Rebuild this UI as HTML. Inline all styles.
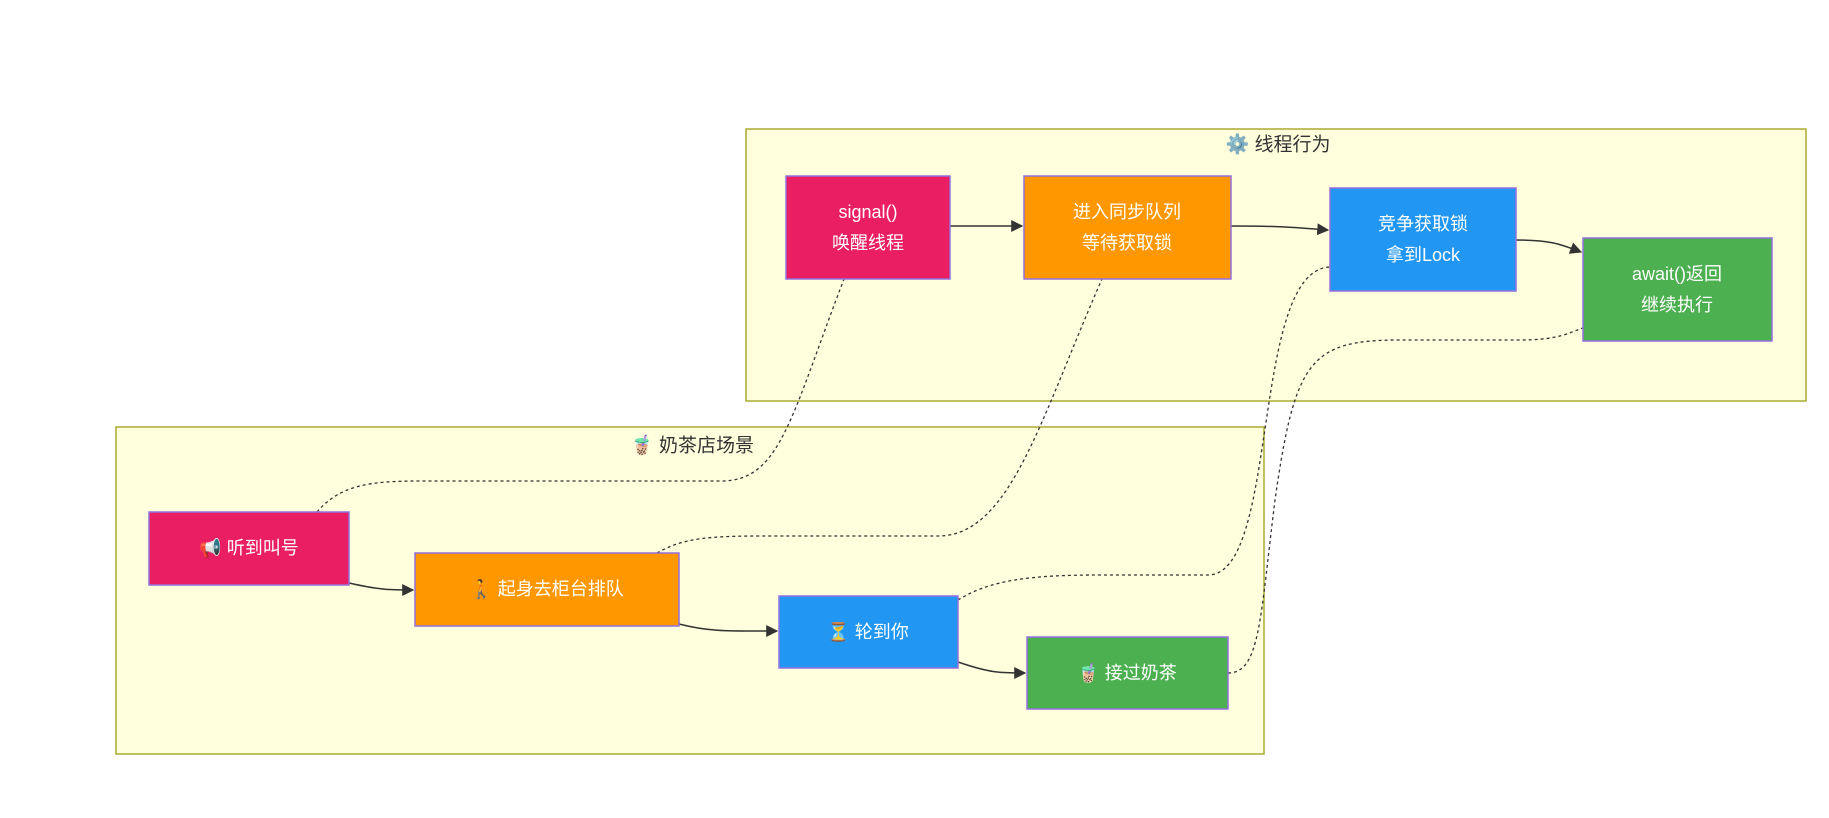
<!DOCTYPE html>
<html><head><meta charset="utf-8"><style>
html,body{margin:0;padding:0;background:#fff;}
svg{display:block;font-family:"Liberation Sans","Noto Sans CJK SC",sans-serif;}
.t{fill:#fff;font-size:18px;text-anchor:middle;dominant-baseline:central;}
.ct{fill:#333;font-size:19px;text-anchor:middle;dominant-baseline:central;}
.n{stroke:#9370DB;stroke-width:1.5;}
.s{fill:none;stroke:#333;stroke-width:1.5;}
.d{fill:none;stroke:#333;stroke-width:1.3;stroke-dasharray:3 3;}
</style></head><body>
<svg width="1829" height="818" viewBox="0 0 1829 818">
<defs><marker id="a" viewBox="0 0 10 10" refX="9" refY="5" markerWidth="8" markerHeight="8" orient="auto"><path d="M0,0L10,5L0,10z" fill="#333"/></marker></defs>
<rect x="746" y="129" width="1060" height="272" fill="#ffffde" stroke="#aaaa33" stroke-width="1.5"/>
<text class="ct" x="1278" y="145">⚙️ 线程行为</text>
<rect x="116" y="427" width="1148" height="327" fill="#ffffde" stroke="#aaaa33" stroke-width="1.5"/>
<text class="ct" x="692" y="446">🧋 奶茶店场景</text>

<path class="s" d="M950,226 L1022,226" marker-end="url(#a)"/>
<path class="s" d="M1231,226 C1290,226 1300,228 1328,230" marker-end="url(#a)"/>
<path class="s" d="M1516,240 C1550,240 1560,244 1581,252" marker-end="url(#a)"/>
<path class="s" d="M349,583 C380,590 390,590 413,590" marker-end="url(#a)"/>
<path class="s" d="M679,624 C710,632 730,631 777,631" marker-end="url(#a)"/>
<path class="s" d="M958,662 C990,673 1000,673 1025,673" marker-end="url(#a)"/>

<path class="d" d="M317,512 C340,485 370,481 420,481 L721,481 C780,481 790,420 844,279"/>
<path class="d" d="M657,553 C680,540 700,536 760,536 L938,536 C1010,536 1040,420 1102,279"/>
<path class="d" d="M958,600 C990,580 1030,575 1100,575 L1208,575 C1280,575 1250,270 1330,267"/>
<path class="d" d="M1228,673 C1260,673 1260,620 1275,500 C1295,360 1310,340 1400,340 L1520,340 C1560,340 1570,332 1583,328"/>

<rect class="n" x="786" y="176" width="164" height="103" fill="#E91E63"/>
<text class="t" x="868" y="212">signal()</text><text class="t" x="868" y="243">唤醒线程</text>
<rect class="n" x="1024" y="176" width="207" height="103" fill="#FF9800"/>
<text class="t" x="1127" y="212">进入同步队列</text><text class="t" x="1127" y="243">等待获取锁</text>
<rect class="n" x="1330" y="188" width="186" height="103" fill="#2196F3"/>
<text class="t" x="1423" y="224">竞争获取锁</text><text class="t" x="1423" y="255">拿到Lock</text>
<rect class="n" x="1583" y="238" width="189" height="103" fill="#4CAF50"/>
<text class="t" x="1677" y="274">await()返回</text><text class="t" x="1677" y="305">继续执行</text>

<rect class="n" x="149" y="512" width="200" height="73" fill="#E91E63"/>
<text class="t" x="249" y="548">📢 听到叫号</text>
<rect class="n" x="415" y="553" width="264" height="73" fill="#FF9800"/>
<text class="t" x="547" y="589">🚶 起身去柜台排队</text>
<rect class="n" x="779" y="596" width="179" height="72" fill="#2196F3"/>
<text class="t" x="868" y="632">⏳ 轮到你</text>
<rect class="n" x="1027" y="637" width="201" height="72" fill="#4CAF50"/>
<text class="t" x="1127" y="673">🧋 接过奶茶</text>
</svg>
</body></html>
